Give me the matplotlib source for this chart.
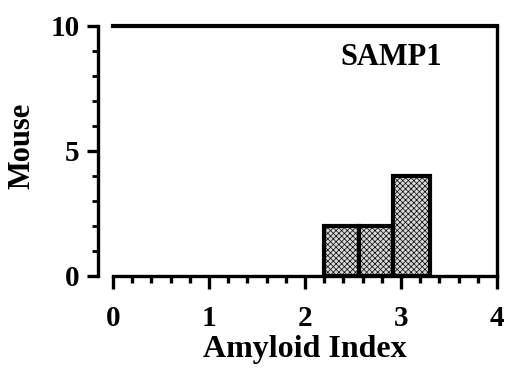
import matplotlib.pyplot as plt
from matplotlib.ticker import MultipleLocator

plt.rcParams['font.family'] = 'Liberation Serif'
plt.rcParams['font.weight'] = 'bold'
plt.rcParams['hatch.linewidth'] = 0.5
plt.rcParams['hatch.color'] = '#444444'

# histogram bins (Amyloid Index) and counts
bin_edges = [2.2, 2.56, 2.92, 3.3]
counts = [2, 2, 4]
label = "SAMP1"

fig = plt.figure(figsize=(5.1, 3.81), dpi=100)
ax = fig.add_axes([0.2216, 0.2756, 0.7529, 0.6562])

lefts = bin_edges[:-1]
widths = [b - a for a, b in zip(bin_edges[:-1], bin_edges[1:])]
ax.bar(lefts, counts, width=widths, align='edge', facecolor='#d8d8d8',
       edgecolor='black', linewidth=3, hatch='xxxxxx', zorder=3)

ax.set_xlim(0, 4)
ax.set_ylim(0, 10)
ax.xaxis.set_major_locator(MultipleLocator(1))
ax.xaxis.set_minor_locator(MultipleLocator(0.2))
ax.yaxis.set_major_locator(MultipleLocator(5))
ax.yaxis.set_minor_locator(MultipleLocator(1))

for s in ax.spines.values():
    s.set_linewidth(2.4)
ax.spines['left'].set_position(('outward', 11))
ax.spines['top'].set_linewidth(3)

ax.tick_params(axis='x', which='major', direction='out', length=9, width=2.4,
               labelsize=21, pad=12)
ax.tick_params(axis='x', which='minor', direction='out', length=5, width=2.4)
ax.tick_params(axis='y', which='major', direction='out', length=8, width=2.4,
               labelsize=21, pad=5)
ax.tick_params(axis='y', which='minor', direction='out', length=4, width=2)

ax.set_xlabel("Amyloid Index", fontsize=23, fontweight='bold')
ax.set_ylabel("Mouse", fontsize=22, fontweight='bold')
ax.xaxis.set_label_coords(0.5, -0.236)
ax.yaxis.set_label_coords(-0.198, 0.52)

ax.text(2.9, 8.75, label, fontsize=22, fontweight='bold', ha='center', va='center')

fig.savefig("out.png", dpi=100)
